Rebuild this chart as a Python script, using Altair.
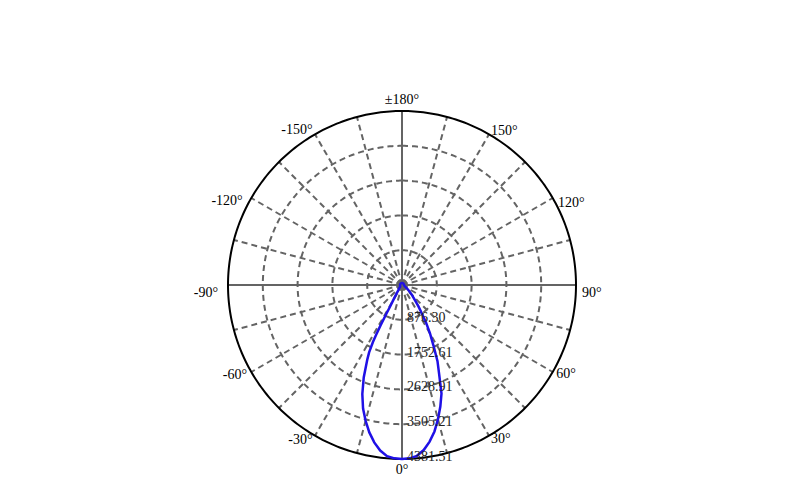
import altair as alt
import pandas as pd

# ---------------- data ----------------
R_MAX = 4381.51

angles = [-180, -170, -160, -150, -140, -130, -120, -110, -100, -90, -80, -70, -60,
          -50, -45, -40, -35, -32.5, -30, -29, -28.5, -28, -27.5, -27, -26, -25,
          -22.5, -20, -17.5, -15, -12.5, -10, -7.5, -5, -2.5, 0,
          2.5, 5, 7.5, 10, 12.5, 15, 17.5, 20, 22.5, 25, 27.5, 30, 32.5, 35,
          37.5, 40, 45, 50, 55, 60, 70, 80, 90, 100, 110, 120, 130, 140, 150,
          160, 170, 180]
intensity = [50, 50, 50, 50, 50, 50, 50, 50, 50, 50, 50, 50, 50,
             60, 76, 113, 164, 252, 453, 604, 831, 1158, 1410, 1612, 1889, 2065,
             2518, 2921, 3261, 3540, 3802, 4024, 4205, 4326, 4369, 4381.51,
             4369, 4318, 4192, 4004, 3777, 3500, 3210, 2908, 2450, 2115, 1712, 1410, 1133, 856,
             680, 529, 352, 227, 151, 101, 70, 55, 50, 50, 50, 50, 50, 50, 50,
             50, 50, 50]

ring_values = [876.30, 1752.61, 2628.91, 3505.21, 4381.51]
ring_labels = ["876.30", "1752.61", "2628.91", "3505.21", "4381.51"]

spoke_angles = [-165, -150, -135, -120, -105, -90, -75, -60, -45, -30, -15, 0,
                15, 30, 45, 60, 75, 90, 105, 120, 135, 150, 165, 180]

tick_angles = [180, -150, -120, -90, -60, -30, 0, 30, 60, 90, 120, 150]
tick_labels = ["±180°", "-150°", "-120°", "-90°", "-60°", "-30°", "0°",
               "30°", "60°", "90°", "120°", "150°"]

# ---------------- layout ----------------
W = 348
HALF = W / 2
FONT = "Liberation Serif"
GRID = "#646464"

xs = alt.Scale(domain=[-R_MAX, R_MAX], nice=False, zero=False)
ys = alt.Scale(domain=[-R_MAX, R_MAX], nice=False, zero=False)

ring_df = pd.DataFrame({"r": ring_values, "label": ring_labels})
spoke_df = pd.DataFrame({"angle": spoke_angles})
tick_df = pd.DataFrame({"angle": tick_angles, "label": tick_labels})
curve_df = pd.DataFrame({"angle": angles, "cd": intensity})


def rings(expr, color, dash):
    kw = dict(color=color, strokeWidth=2)
    if dash:
        kw["strokeDash"] = [6, 4]
    return alt.Chart(ring_df).transform_filter(expr).transform_calculate(
        a="sequence(0, 361, 1)"
    ).transform_flatten(["a"]).transform_calculate(
        cx="datum.r*sin(datum.a*PI/180)",
        cy="datum.r*cos(datum.a*PI/180)",
    ).mark_line(**kw).encode(
        x=alt.X("cx:Q", scale=xs, axis=None),
        y=alt.Y("cy:Q", scale=ys, axis=None),
        detail="r:N",
        order="a:Q",
    )


inner_rings = rings(f"datum.r < {R_MAX - 1}", GRID, True)
outer_ring = rings(f"datum.r >= {R_MAX - 1}", "black", False)


def spokes(expr, dash):
    kw = dict(color=GRID, strokeWidth=2)
    if dash:
        kw["strokeDash"] = [6, 4]
    return alt.Chart(spoke_df).transform_filter(expr).transform_calculate(
        x0="0", y0="0",
        x1=f"{R_MAX}*sin(datum.angle*PI/180)",
        y1=f"-{R_MAX}*cos(datum.angle*PI/180)",
    ).mark_rule(**kw).encode(
        x=alt.X("x0:Q", scale=xs, axis=None),
        y=alt.Y("y0:Q", scale=ys, axis=None),
        x2="x1:Q", y2="y1:Q",
    )


dashed_spokes = spokes("datum.angle % 90 != 0", True)
solid_spokes = spokes("datum.angle % 90 == 0", False)

curve = alt.Chart(curve_df).transform_calculate(
    px="datum.cd*sin(datum.angle*PI/180)",
    py="-datum.cd*cos(datum.angle*PI/180)",
).mark_line(color="#1f10e6", strokeWidth=2.5).encode(
    x=alt.X("px:Q", scale=xs, axis=None),
    y=alt.Y("py:Q", scale=ys, axis=None),
    order="angle:Q",
)

ring_text = alt.Chart(ring_df).transform_calculate(
    tx="0", ty="-datum.r"
).mark_text(align="left", baseline="middle", dx=5, dy=-2, font=FONT,
            fontSize=14, color="#222222").encode(
    x=alt.X("tx:Q", scale=xs, axis=None),
    y=alt.Y("ty:Q", scale=ys, axis=None),
    text="label:N",
)


def tick_layer(expr, align, rad_px, dy):
    f = rad_px / HALF * R_MAX
    return alt.Chart(tick_df).transform_filter(expr).transform_calculate(
        tx=f"{f}*sin(datum.angle*PI/180)",
        ty=f"-{f}*cos(datum.angle*PI/180)",
    ).mark_text(align=align, baseline="middle", dy=dy, font=FONT,
                fontSize=14, color="black").encode(
        x=alt.X("tx:Q", scale=xs, axis=None),
        y=alt.Y("ty:Q", scale=ys, axis=None),
        text="label:N",
    )


side_low = "(abs(datum.angle) == 90 || abs(datum.angle) == 120)"
ticks_right_a = tick_layer(f"datum.angle > 0 && datum.angle < 180 && !{side_low}", "left", 178, 0)
ticks_right_b = tick_layer(f"datum.angle > 0 && {side_low}", "left", 180, 8)
ticks_left_a = tick_layer(f"datum.angle < 0 && datum.angle > -180 && !{side_low}", "right", 179, 0)
ticks_left_b = tick_layer(f"datum.angle < 0 && {side_low}", "right", 184, 8)
ticks_mid = tick_layer("datum.angle == 0 || abs(datum.angle) == 180", "center", 185, 0)

chart = alt.layer(
    inner_rings, dashed_spokes, solid_spokes, outer_ring, curve, ring_text,
    ticks_right_a, ticks_right_b, ticks_left_a, ticks_left_b, ticks_mid,
).properties(
    width=W, height=W,
    padding={"left": 220, "top": 103, "right": 200, "bottom": 30},
    autosize=alt.AutoSizeParams(type="none"),
).configure_view(strokeWidth=0).resolve_scale(x="shared", y="shared")

chart.save("out.html", embed_options={"renderer": "svg", "actions": False})
